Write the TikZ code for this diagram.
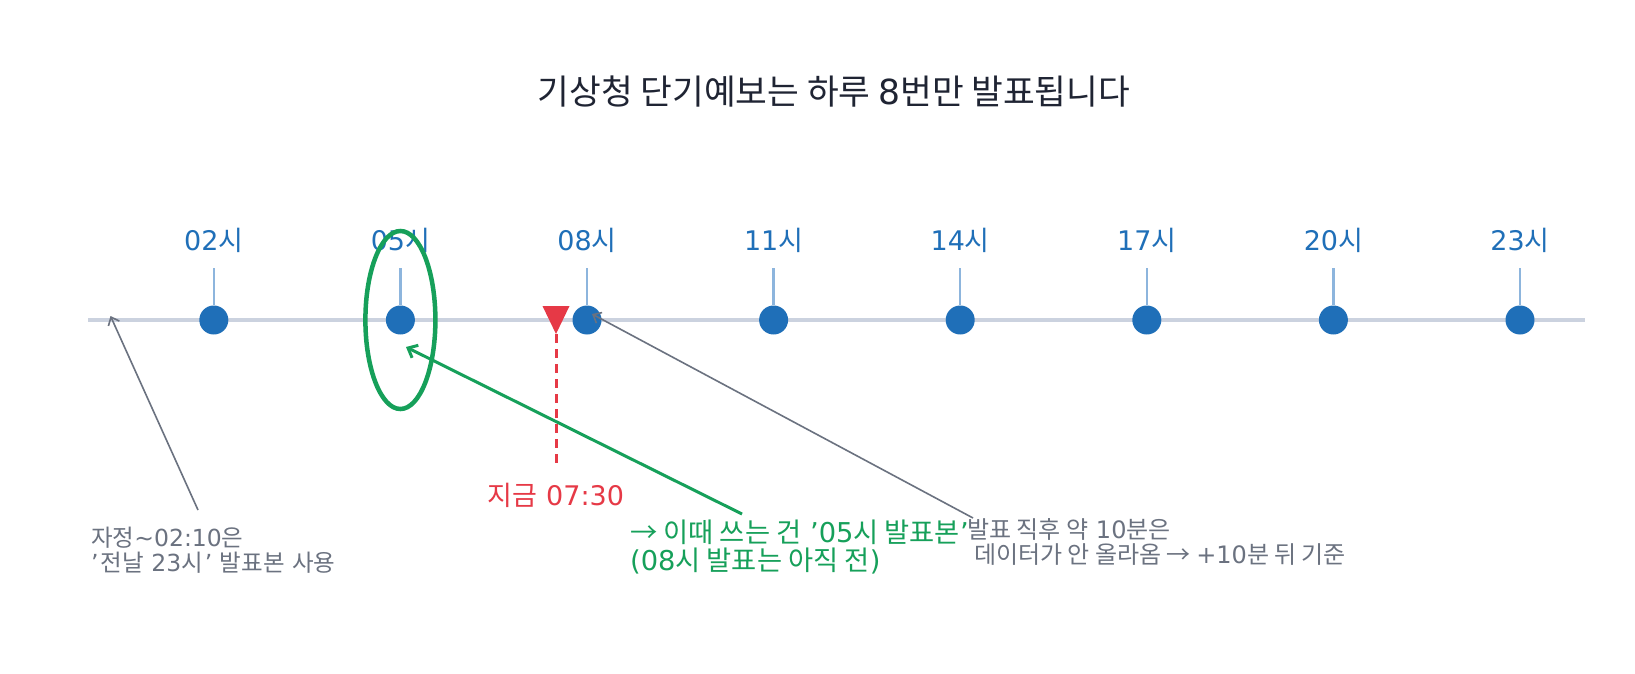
\documentclass[tikz,border=0pt]{standalone}
\usepackage{fontspec}
\setmainfont{Noto Sans CJK KR}
\newfontfamily\lat{DejaVu Sans}
\newcommand\ltn[1]{{\lat #1}}
\usetikzlibrary{arrows.meta}
\definecolor{titlec}{HTML}{1F2433}
\definecolor{dotblue}{HTML}{1F6FB8}
\definecolor{tickblue}{HTML}{8DB5DD}
\definecolor{linegray}{HTML}{CBD2DF}
\definecolor{nowred}{HTML}{E63946}
\definecolor{usegreen}{HTML}{16A05A}
\definecolor{notegray}{HTML}{6B7280}
\tikzset{
  hourdot/.style={circle,fill=dotblue,inner sep=0pt,minimum size=29pt},
  hourlabel/.style={text=dotblue,font=\fontsize{27}{30}\selectfont,inner sep=0pt},
  ticklink/.style={draw=tickblue,line width=2.5pt},
  note/.style={text=notegray,align=left,inner sep=0pt,anchor=west},
  notearrow/.style={draw=notegray,line width=1.6pt,-{Straight Barb[length=7pt,width=12pt,line width=1.6pt]}},
}
\begin{document}
\begin{tikzpicture}[x=1pt,y=-1pt]
\useasboundingbox[fill=white] (0,0) rectangle (1635,674);
% title
\node[text=titlec,font=\fontsize{34.5}{38}\selectfont] (title) at (834,92) {기상청 단기예보는 하루 \ltn{8}번만 발표됩니다};
% timeline
\coordinate (tlL) at (88,320);
\coordinate (tlR) at (1585,320);
\draw[linegray,line width=4.5pt] (tlL) -- (tlR);
% hours
\foreach \h [count=\i from 0] in {02,05,08,11,14,17,20,23}{
  \pgfmathsetmacro{\xx}{213.8+186.6*\i}
  \coordinate (t\h) at (\xx,268);
  \node[hourlabel] (l\h) at (\xx,240) {{\lat\h}시};
  \node[hourdot] (d\h) at (\xx,320) {};
  \draw[ticklink] (t\h) -- (d\h.north);
}
% now marker
\coordinate (nowtop) at (556,334);
\coordinate (nowbot) at (556,466);
\fill[nowred] (542.5,306) -- (569.5,306) -- (nowtop) -- cycle;
\draw[nowred,line width=3pt,dash pattern=on 9pt off 6pt] (nowtop) -- (nowbot);
\node[text=nowred,font=\fontsize{27}{30}\selectfont,inner sep=0pt] (now) at (556,495) {지금\ltn{ 07:30}};
% green highlight
\draw[usegreen,line width=4.5pt] (d05) ellipse (35pt and 89pt);
\node[text=usegreen,font=\fontsize{27.3}{28}\selectfont,align=left,inner sep=0pt,anchor=west] (use) at (630,547) {→ 이때 쓰는 건\ltn{ ’05}시 발표본\ltn{’}\\\ltn{(08}시 발표는 아직 전\ltn{)}};
\coordinate (usefrom) at (742,514);
\coordinate (useto) at (406,347);
\draw[usegreen,line width=3pt,-{Straight Barb[length=8pt,width=14pt,line width=3pt]}] (usefrom) -- (useto);
% left note
\node[note,font=\fontsize{23.5}{24.5}\selectfont] (left) at (91,550) {자정\ltn{\textasciitilde 02:10}은\\\ltn{’}\hspace{2pt}전날\ltn{ 23}시\hspace{2pt}\ltn{’ }발표본\ltn{ }사용};
\coordinate (leftfrom) at (198,510);
\coordinate (leftto) at (110.5,316);
\draw[notearrow] (leftfrom) -- (leftto);
% right note
\node[note,font=\fontsize{24}{25}\selectfont] (right) at (967,541.5) {발표 직후 약\ltn{ 10}분은\\\hspace*{7pt}데이터가 안 올라옴 → \ltn{+10}분 뒤 기준};
\coordinate (rightfrom) at (973,518);
\coordinate (rightto) at (592,314);
\draw[notearrow] (rightfrom) -- (rightto);
\end{tikzpicture}
\end{document}
